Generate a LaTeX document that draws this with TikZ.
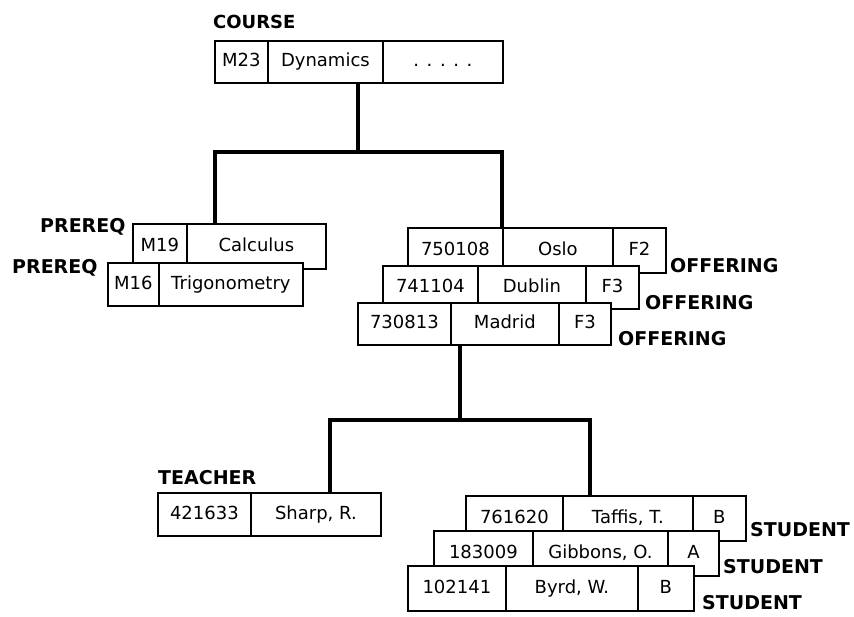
\documentclass[tikz,border=0pt]{standalone}
\usepackage{fontspec}
\setmainfont{DejaVu Sans}
\tikzset{
  cell/.style={draw, line width=1.8pt, fill=white, anchor=north west, inner sep=0pt,
    text height=13pt, text depth=3pt, font=\fontsize{18}{20}\selectfont},
  conn/.style={line width=3.5pt, line join=miter},
  lab/.style={anchor=west, inner sep=0pt, font=\fontsize{19}{21}\selectfont\bfseries},
}
% \rcell{name}{x}{y}{width}{height}{text}
\newcommand\rcell[6]{\node[cell, minimum width=#4pt, minimum height=#5pt] (#1) at (#2,#3) {#6};}
\begin{document}
\begin{tikzpicture}[x=1pt,y=-1pt]
\useasboundingbox (0,0) rectangle (854,616);
% junction coordinates
\coordinate (j1) at (358,152);
\coordinate (jL) at (215,152);
\coordinate (jR) at (502,152);
\coordinate (k1) at (460,420);
\coordinate (kL) at (330,420);
\coordinate (kR) at (590,420);

% COURSE
\node[lab, font=\fontsize{18}{20}\selectfont\bfseries] (lcourse) at (213,22) {COURSE};
\rcell{cA}{214}{40}{53}{42}{M23}
\rcell{cB}{267}{40}{115}{42}{Dynamics}
\rcell{cC}{382}{40}{120}{42}{. . . . .}

% PREREQ
\rcell{pA}{132}{223}{54}{45}{M19}
\rcell{pB}{186}{223}{139}{45}{Calculus}
\rcell{qA}{107}{262}{51}{43}{M16}
\rcell{qB}{158}{262}{144}{43}{Trigonometry}
\node[lab] (lp1) at (40,227) {PREREQ};
\node[lab] (lp2) at (12,268) {PREREQ};

% OFFERING
\rcell{oA}{407}{227}{95}{45}{750108}
\rcell{oB}{502}{227}{110}{45}{Oslo}
\rcell{oC}{612}{227}{53}{45}{F2}
\rcell{dA}{382}{265}{95}{43}{741104}
\rcell{dB}{477}{265}{108}{43}{Dublin}
\rcell{dC}{585}{265}{53}{43}{F3}
\rcell{mA}{357}{302}{93}{42}{730813}
\rcell{mB}{450}{302}{108}{42}{Madrid}
\rcell{mC}{558}{302}{52}{42}{F3}
\node[lab] (lo1) at (670,266) {OFFERING};
\node[lab] (lo2) at (645,303) {OFFERING};
\node[lab] (lo3) at (618,339) {OFFERING};

% TEACHER
\node[lab] (lt) at (158,478) {TEACHER};
\rcell{tA}{157}{492}{93}{43}{421633}
\rcell{tB}{250}{492}{130}{43}{Sharp, R.}

% STUDENT
\rcell{sA}{465}{495}{97}{45}{761620}
\rcell{sB}{562}{495}{130}{45}{Taffis, T.}
\rcell{sC}{692}{495}{53}{45}{B}
\rcell{gA}{433}{530}{99}{45}{183009}
\rcell{gB}{532}{530}{135}{45}{Gibbons, O.}
\rcell{gC}{667}{530}{51}{45}{A}
\rcell{bA}{407}{565}{98}{45}{102141}
\rcell{bB}{505}{565}{132}{45}{Byrd, W.}
\rcell{bC}{637}{565}{56}{45}{B}
\node[lab] (ls1) at (750,530) {STUDENT};
\node[lab] (ls2) at (723,567) {STUDENT};
\node[lab] (ls3) at (702,603) {STUDENT};

% connectors
\draw[conn] (cB.south -| j1) -- (j1);
\draw[conn] (pB.north -| jL) -- (jL) -- (jR) -- (oB.north -| jR);
\draw[conn] (mB.south -| k1) -- (k1);
\draw[conn] (tB.north -| kL) -- (kL) -- (kR) -- (sB.north -| kR);
\end{tikzpicture}
\end{document}
